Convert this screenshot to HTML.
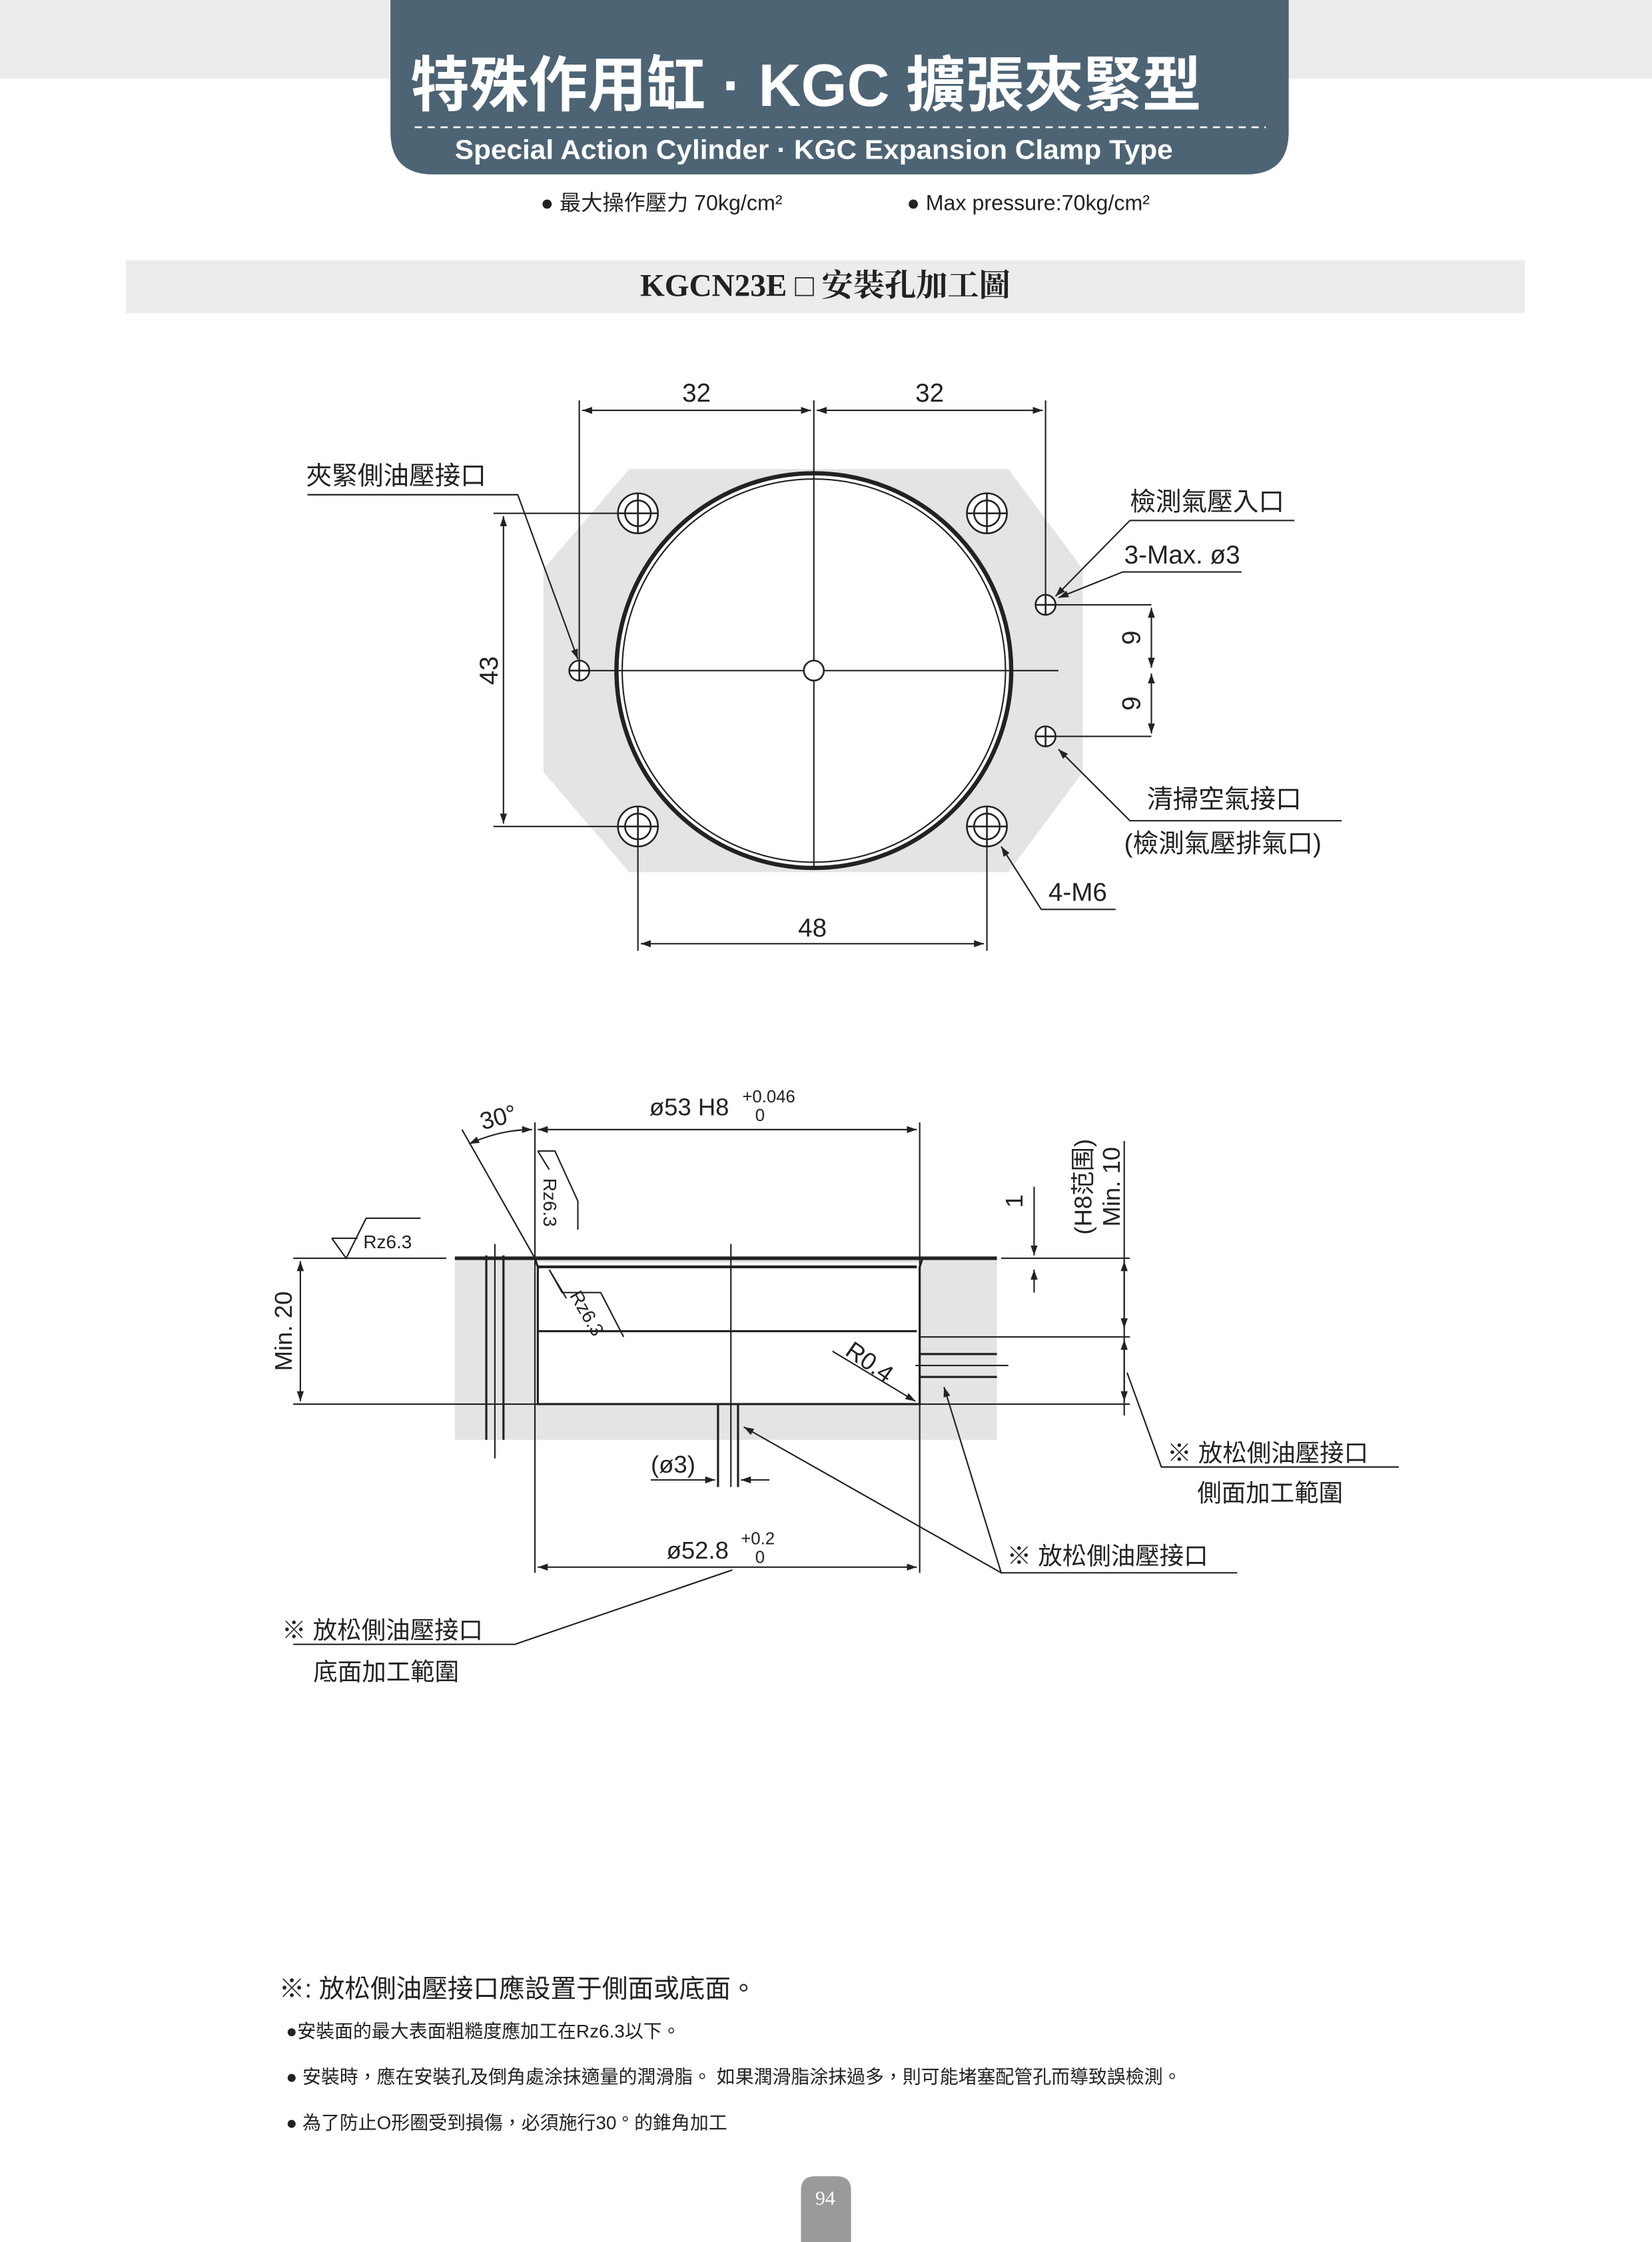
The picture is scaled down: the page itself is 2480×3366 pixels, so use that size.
<!DOCTYPE html>
<html><head><meta charset="utf-8"><style>
html,body{margin:0;padding:0;background:#fff;}
svg{display:block;}
text{font-family:"Liberation Sans","Noto Sans CJK TC",sans-serif;fill:#222;}
</style></head><body>
<svg width="2480" height="3366" viewBox="0 0 1155 1568" preserveAspectRatio="none" xmlns="http://www.w3.org/2000/svg">
<defs>
<marker id="a" viewBox="0 0 10 10" refX="10" refY="5" markerWidth="7" markerHeight="7" orient="auto-start-reverse"><path d="M0,1.5 L10,5 L0,8.5z" fill="#222"/></marker>
</defs>
<!-- header -->
<rect x="0" y="0" width="1155" height="55" fill="#ececec"/>
<path d="M273,0 H901 V92 Q901,122 871,122 H303 Q273,122 273,92 Z" fill="#4d6475"/>
<text x="287" y="74" font-size="42" font-weight="bold" textLength="553" lengthAdjust="spacingAndGlyphs" style="fill:#fff">特殊作用缸 · KGC 擴張夾緊型</text>
<line x1="290" y1="89" x2="885" y2="89" stroke="#fff" stroke-width="1.2" stroke-dasharray="5,4"/>
<text x="318" y="111" font-size="19" font-weight="bold" textLength="502" lengthAdjust="spacingAndGlyphs" style="fill:#fff">Special Action Cylinder  ·  KGC Expansion Clamp Type</text>
<text x="378" y="147" font-size="15">● 最大操作壓力 70kg/cm²</text>
<text x="634" y="147" font-size="15">● Max pressure:70kg/cm²</text>
<rect x="88" y="182" width="978" height="37" fill="#ececec"/>
<text x="577" y="207" font-size="22" font-weight="bold" text-anchor="middle" style="font-family:'Liberation Serif','Noto Serif CJK SC',serif">KGCN23E □ 安裝孔加工圖</text>

<!-- top drawing -->
<g stroke="#222" stroke-width="1" fill="none">
<polygon points="440,328 705,328 757,398 757,540 705,610 440,610 380,540 380,398" fill="#e4e4e4" stroke="none"/>
<circle cx="569" cy="469" r="138" fill="#fff" stroke-width="3"/>
<circle cx="569" cy="469" r="134" stroke-width="1"/>
<line x1="569" y1="280" x2="569" y2="608"/>
<line x1="398" y1="469" x2="740" y2="469"/>
<line x1="731" y1="423" x2="805" y2="423"/>
<line x1="731" y1="515" x2="805" y2="515"/>
<g stroke-width="1.2">
<circle cx="446" cy="359" r="14" fill="#fff"/><circle cx="446" cy="359" r="9"/><path d="M432,359h28M446,345v28"/>
<circle cx="690" cy="359" r="14" fill="#fff"/><circle cx="690" cy="359" r="9"/><path d="M676,359h28M690,345v28"/>
<circle cx="446" cy="578" r="14" fill="#fff"/><circle cx="446" cy="578" r="9"/><path d="M432,578h28M446,564v28"/>
<circle cx="690" cy="578" r="14" fill="#fff"/><circle cx="690" cy="578" r="9"/><path d="M676,578h28M690,564v28"/>
<circle cx="405" cy="469" r="7" fill="#fff"/><path d="M398,469h14M405,462v14"/>
<circle cx="731" cy="423" r="7" fill="#fff"/><path d="M724,423h14M731,416v14"/>
<circle cx="731" cy="515" r="7" fill="#fff"/><path d="M724,515h14M731,508v14"/>
<circle cx="569" cy="469" r="7" fill="#fff"/>
</g>
<!-- dims -->
<line x1="405" y1="280" x2="405" y2="462"/>
<line x1="731" y1="280" x2="731" y2="416"/>
<line x1="407" y1="287" x2="567" y2="287" marker-start="url(#a)" marker-end="url(#a)"/>
<line x1="571" y1="287" x2="729" y2="287" marker-start="url(#a)" marker-end="url(#a)"/>
<line x1="345" y1="359" x2="432" y2="359"/>
<line x1="345" y1="578" x2="432" y2="578"/>
<line x1="352" y1="361" x2="352" y2="576" marker-start="url(#a)" marker-end="url(#a)"/>
<line x1="446" y1="592" x2="446" y2="665"/>
<line x1="690" y1="592" x2="690" y2="665"/>
<line x1="448" y1="660" x2="688" y2="660" marker-start="url(#a)" marker-end="url(#a)"/>
<line x1="805" y1="425" x2="805" y2="467" marker-start="url(#a)" marker-end="url(#a)"/>
<line x1="805" y1="471" x2="805" y2="513" marker-start="url(#a)" marker-end="url(#a)"/>
<!-- leaders -->
<polyline points="215,346 362,346 404,461" marker-end="url(#a)"/>
<polyline points="905,364 790,364 738,417" marker-end="url(#a)"/>
<polyline points="868,400 785,400 740,418" marker-end="url(#a)"/>
<polyline points="938,574 790,574 740,524" marker-end="url(#a)"/>
<polyline points="780,636 728,636 700,592" marker-end="url(#a)"/>
</g>
<g font-size="18">
<text x="487" y="281" text-anchor="middle">32</text>
<text x="650" y="281" text-anchor="middle">32</text>
<text x="568" y="655" text-anchor="middle">48</text>
<text x="348" y="469" text-anchor="middle" transform="rotate(-90 348 469)">43</text>
<text x="797" y="446" text-anchor="middle" transform="rotate(-90 797 446)">9</text>
<text x="797" y="492" text-anchor="middle" transform="rotate(-90 797 492)">9</text>
<text x="214" y="339">夾緊側油壓接口</text>
<text x="790" y="357">檢測氣壓入口</text>
<text x="786" y="394">3-Max. ø3</text>
<text x="802" y="565">清掃空氣接口</text>
<text x="786" y="596">(檢測氣壓排氣口)</text>
<text x="733" y="630">4-M6</text>
</g>

<!-- bottom drawing -->
<rect x="318" y="881" width="379" height="126" fill="#e4e4e4"/>
<rect x="374" y="883" width="269" height="99" fill="#fff"/>
<g stroke="#222" stroke-width="1" fill="none">
<line x1="318" y1="880" x2="697" y2="880" stroke-width="2.5"/>
<line x1="205" y1="880" x2="312" y2="880"/>
<line x1="700" y1="880" x2="790" y2="880"/>
<line x1="376" y1="886" x2="641" y2="886" stroke-width="2"/>
<path d="M374,880 L376,886 V982 H643 V886 L645,880" stroke-width="1.5"/>
<line x1="376" y1="931" x2="641" y2="931" stroke-width="1.5"/>
<line x1="205" y1="982" x2="790" y2="982"/>
<line x1="340" y1="878" x2="340" y2="1007" stroke-width="1.5"/>
<line x1="352" y1="878" x2="352" y2="1007" stroke-width="1.5"/>
<line x1="346" y1="870" x2="346" y2="1020"/>
<line x1="511" y1="870" x2="511" y2="1040"/>
<line x1="502" y1="982" x2="502" y2="1040" stroke-width="1.5"/>
<line x1="516" y1="982" x2="516" y2="1040" stroke-width="1.5"/>
<line x1="643" y1="947" x2="697" y2="947" stroke-width="1.5"/>
<line x1="643" y1="963" x2="697" y2="963" stroke-width="1.5"/>
<line x1="640" y1="955" x2="705" y2="955"/>
<line x1="643" y1="935" x2="790" y2="935"/>
<line x1="374" y1="785" x2="374" y2="1100"/>
<line x1="643" y1="785" x2="643" y2="1100"/>
<line x1="376" y1="790" x2="641" y2="790" marker-start="url(#a)" marker-end="url(#a)"/>
<line x1="376" y1="1096" x2="641" y2="1096" marker-start="url(#a)" marker-end="url(#a)"/>
<line x1="323" y1="790" x2="374" y2="880"/>
<path d="M328,800 Q350,790 372,790" marker-start="url(#a)" marker-end="url(#a)"/>
<line x1="210" y1="882" x2="210" y2="980" marker-start="url(#a)" marker-end="url(#a)"/>
<line x1="786" y1="798" x2="786" y2="990"/>
<line x1="786" y1="882" x2="786" y2="929" marker-start="url(#a)" marker-end="url(#a)"/>
<line x1="786" y1="937" x2="786" y2="980" marker-start="url(#a)" marker-end="url(#a)"/>
<line x1="723" y1="830" x2="723" y2="878" marker-end="url(#a)"/>
<line x1="723" y1="904" x2="723" y2="888" marker-end="url(#a)"/>
<line x1="455" y1="1035" x2="500" y2="1035" marker-end="url(#a)"/>
<line x1="538" y1="1035" x2="518" y2="1035" marker-end="url(#a)"/>
<line x1="582" y1="945" x2="640" y2="980" marker-end="url(#a)"/>
<!-- roughness symbols -->
<polyline points="232,866 242,880 256,852 294,852"/>
<line x1="232" y1="866" x2="250" y2="866"/>
<polyline points="376,805 388,805 404,840 404,860"/>
<line x1="376" y1="805" x2="384" y2="818"/>
<polyline points="384,888 393,904 420,904 436,935"/>
<line x1="384" y1="888" x2="396" y2="908"/>
<!-- leaders -->
<polyline points="978,1026 812,1026 788,960"/>
<polyline points="865,1100 700,1100 520,998" marker-end="url(#a)"/>
<polyline points="700,1100 660,970" marker-end="url(#a)"/>
<polyline points="205,1150 360,1150 512,1098"/>
</g>
<g font-size="17">
<text x="454" y="780">ø53 H8</text>
<text x="519" y="771" font-size="12">+0.046</text>
<text x="528" y="784" font-size="12">0</text>
<text x="335" y="788" transform="rotate(-15 345 780)">30°</text>
<text x="466" y="1090">ø52.8</text>
<text x="518" y="1080" font-size="12">+0.2</text>
<text x="528" y="1093" font-size="12">0</text>
<text x="455" y="1030">(ø3)</text>
<text x="254" y="873" font-size="13">Rz6.3</text>
<text x="380" y="824" font-size="13" transform="rotate(90 380 824)">Rz6.3</text>
<text x="398" y="906" font-size="13" transform="rotate(60 398 906)">Rz6.3</text>
<text x="590" y="947" transform="rotate(35 590 947)">R0.4</text>
<text x="204" y="931" text-anchor="middle" transform="rotate(-90 204 931)">Min. 20</text>
<text x="715" y="840" text-anchor="middle" transform="rotate(-90 715 840)">1</text>
<text x="763" y="830" text-anchor="middle" transform="rotate(-90 763 830)">(H8范围)</text>
<text x="783" y="830" text-anchor="middle" transform="rotate(-90 783 830)">Min. 10</text>
<text x="816" y="1022">※ 放松側油壓接口</text>
<text x="837" y="1050">側面加工範圍</text>
<text x="704" y="1094">※ 放松側油壓接口</text>
<text x="197" y="1146">※ 放松側油壓接口</text>
<text x="219" y="1175">底面加工範圍</text>
</g>

<!-- notes -->
<text x="195" y="1397" font-size="18">※:  放松側油壓接口應設置于側面或底面。</text>
<text x="200" y="1425" font-size="13">●安裝面的最大表面粗糙度應加工在Rz6.3以下。</text>
<text x="200" y="1457" font-size="13">● 安裝時，應在安裝孔及倒角處涂抹適量的潤滑脂。 如果潤滑脂涂抹過多，則可能堵塞配管孔而導致誤檢測。</text>
<text x="200" y="1489" font-size="13">● 為了防止O形圈受到損傷，必須施行30 ° 的錐角加工</text>
<path d="M560,1568 V1532 Q560,1522 570,1522 H585 Q595,1522 595,1532 V1568 Z" fill="#9a9a9a"/>
<text x="577" y="1542" font-size="14" text-anchor="middle" style="fill:#fff;font-family:'Liberation Serif',serif">94</text>
</svg>
</body></html>
